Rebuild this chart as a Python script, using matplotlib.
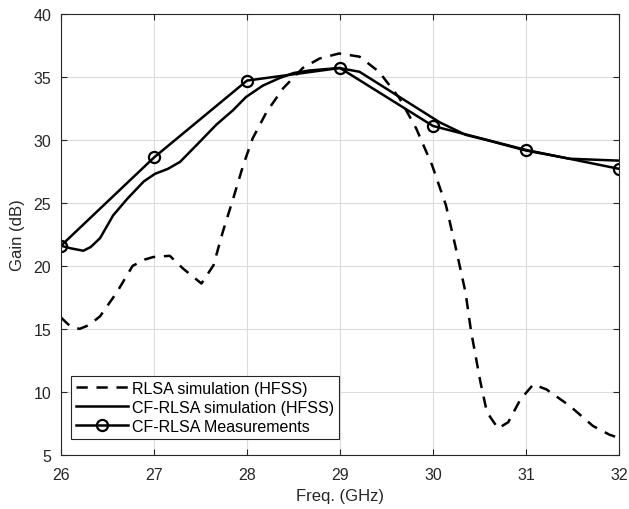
import matplotlib
matplotlib.use('agg')
from matplotlib import pyplot as plt

plt.rcParams['font.family'] = ['Liberation Sans', 'DejaVu Sans']

# RLSA simulation (HFSS), dashed
rlsa_f = [26.0, 26.1, 26.2, 26.3, 26.42, 26.6, 26.77, 26.9, 26.99, 27.17, 27.31, 27.51,
          27.64, 27.74, 27.85, 27.96, 28.06, 28.21, 28.39, 28.6, 28.78, 28.99, 29.21,
          29.42, 29.64, 29.82, 29.99, 30.14, 30.24, 30.35, 30.41, 30.51, 30.58, 30.7,
          30.81, 30.94, 31.08, 31.22, 31.47, 31.72, 31.9, 32.0]
rlsa_g = [15.9, 15.2, 15.0, 15.3, 16.0, 17.9, 20.0, 20.5, 20.7, 20.8, 19.8, 18.6,
          20.05, 22.7, 25.3, 28.0, 30.1, 32.2, 34.1, 35.7, 36.45, 36.85, 36.6,
          35.4, 33.3, 30.9, 28.0, 24.8, 21.6, 17.9, 14.8, 10.8, 8.4, 7.1,
          7.6, 9.4, 10.6, 10.2, 8.9, 7.3, 6.6, 6.35]

# CF-RLSA simulation (HFSS), solid
cf_f = [26.0, 26.1, 26.24, 26.32, 26.42, 26.56, 26.71, 26.89, 27.01, 27.15, 27.28,
        27.46, 27.67, 27.85, 27.99, 28.17, 28.35, 28.5, 28.67, 28.99, 29.21, 29.49,
        29.78, 30.07, 30.35, 30.57, 31.0, 31.47, 32.0]
cf_g = [21.6, 21.4, 21.2, 21.5, 22.2, 24.0, 25.3, 26.7, 27.3, 27.7, 28.25,
        29.6, 31.2, 32.35, 33.4, 34.3, 34.9, 35.3, 35.5, 35.7, 35.4, 34.1,
        32.75, 31.4, 30.4, 30.0, 29.15, 28.5, 28.35]

# CF-RLSA measurements
meas_f = [26, 27, 28, 29, 30, 31, 32]
meas_g = [21.6, 28.6, 34.7, 35.7, 31.1, 29.2, 27.7]

fig = plt.figure(figsize=(6.29, 5.10), dpi=100)
ax = fig.add_axes([0.097, 0.106, 0.887, 0.865])

ax.plot(rlsa_f, rlsa_g, 'k--', linewidth=1.8, dashes=(4.5, 3.5), label='RLSA simulation (HFSS)')
ax.plot(cf_f, cf_g, 'k-', linewidth=1.8, label='CF-RLSA simulation (HFSS)')
ax.plot(meas_f, meas_g, 'k-o', linewidth=1.8, markersize=8, markerfacecolor='none',
        markeredgewidth=1.6, label='CF-RLSA Measurements')

ax.set_xlim(26, 32)
ax.set_ylim(5, 40)
ax.set_xticks(range(26, 33))
ax.set_yticks(range(5, 41, 5))
ax.grid(True, color='#dcdcdc', linewidth=0.8)
ax.tick_params(direction='in', top=True, right=True, labelsize=11.5, colors='#262626',
               length=4)
ax.tick_params(axis='x', pad=9)
ax.tick_params(axis='y', pad=7)
for s in ax.spines.values():
    s.set_color('#262626')
    s.set_linewidth(0.8)

ax.set_xlabel('Freq. (GHz)', fontsize=12, color='#262626', labelpad=4)
ax.set_ylabel('Gain (dB)', fontsize=12, color='#262626', labelpad=6)

leg = ax.legend(loc='lower left', bbox_to_anchor=(0.012, 0.03), fontsize=11.5,
                fancybox=False, edgecolor='#262626', framealpha=1,
                handlelength=3.3, borderpad=0.3, labelspacing=0.25, handletextpad=0.2,
                borderaxespad=0.2)
leg.get_frame().set_linewidth(0.8)

plt.savefig('out.png', dpi=100, facecolor='white')
